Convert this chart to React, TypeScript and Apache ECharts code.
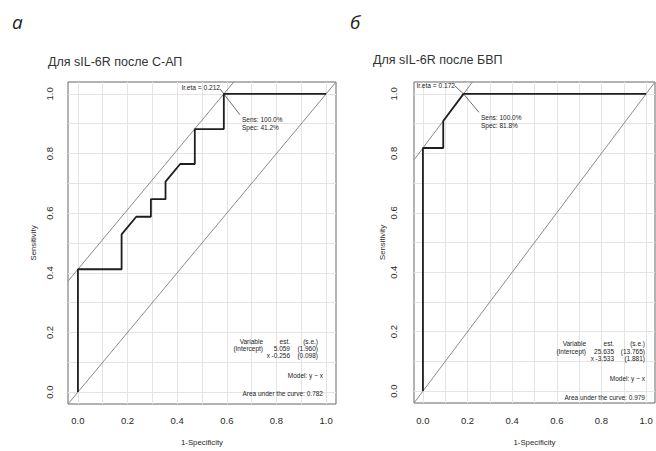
import React, { useEffect, useRef } from "react";
import * as echarts from "echarts";

// ---- data ----
const gridValues = [0, 0.1, 0.2, 0.3, 0.4, 0.5, 0.6, 0.7, 0.8, 0.9, 1.0];
const tickValues = [0, 0.2, 0.4, 0.6, 0.8, 1.0];

const rocAx = [0, 0, 0.176, 0.176, 0.235, 0.294, 0.294, 0.353, 0.353, 0.412, 0.471, 0.471, 0.588, 0.588, 1.0];
const rocAy = [0, 0.412, 0.412, 0.529, 0.588, 0.588, 0.647, 0.647, 0.706, 0.765, 0.765, 0.882, 0.882, 1.0, 1.0];
const rocBx = [0, 0, 0.091, 0.091, 0.182, 1.0];
const rocBy = [0, 0.818, 0.818, 0.909, 1.0, 1.0];

const optimumA = [0.588, 1.0];
const optimumB = [0.182, 1.0];
const connectorA = [[0.573, 1.017], [0.588, 1.0], [0.653, 0.93]];
const connectorB = [[0.143, 1.027], [0.182, 1.0], [0.251, 0.938]];

const titles = ["Для sIL-6R после С-АП", "Для sIL-6R после БВП"];
const panelLetters = ["а", "б"];
const lrEta = ["lr.eta = 0.212", "lr.eta = 0.172"];
const sensText = ["Sens: 100.0%", "Sens: 100.0%"];
const specText = ["Spec: 41.2%", "Spec: 81.8%"];
const tableHeader = ["Variable", "est.", "(s.e.)"];
const tableA = [["(Intercept)", "5.059", "(1.960)"], ["x", "-0.256", "(0.098)"]];
const tableB = [["(Intercept)", "25.635", "(13.765)"], ["x", "-3.533", "(1.881)"]];
const modelText = "Model: y ~ x";
const aucText = ["Area under the curve: 0.782", "Area under the curve: 0.979"];

const FONT = "Liberation Sans, Arial, sans-serif";
const LO = -0.04;
const HI = 1.04;

function zip(xs: number[], ys: number[]) {
  return xs.map((x, i) => [x, ys[i]]);
}

function xAxis(gridIndex: number, margin: number, nameGap: number) {
  return {
    type: "value",
    gridIndex,
    min: LO,
    max: HI,
    axisLine: { show: false },
    axisTick: { show: true, customValues: tickValues, length: 6, lineStyle: { color: "#555", width: 1 } },
    axisLabel: {
      customValues: tickValues,
      formatter: (v: number) => v.toFixed(1),
      fontSize: 9.5,
      color: "#2a2a2a",
      fontFamily: FONT,
      margin,
    },
    splitLine: { show: false },
    name: "1-Specificity",
    nameLocation: "middle",
    nameGap,
    nameTextStyle: { fontSize: 7.8, color: "#2a2a2a", fontFamily: FONT },
  };
}

function yAxis(gridIndex: number, margin: number, nameGap: number) {
  return {
    type: "value",
    gridIndex,
    min: LO,
    max: HI,
    axisLine: { show: false },
    axisTick: { show: true, customValues: tickValues, length: 6, lineStyle: { color: "#555", width: 1 } },
    axisLabel: {
      customValues: tickValues,
      formatter: (v: number) => v.toFixed(1),
      fontSize: 9.5,
      color: "#2a2a2a",
      fontFamily: FONT,
      rotate: 90,
      margin,
    },
    splitLine: { show: false },
    name: "Sensitivity",
    nameLocation: "middle",
    nameGap,
    nameTextStyle: { fontSize: 7.8, color: "#2a2a2a", fontFamily: FONT },
  };
}

function panelSeries(idx: number, roc: number[][], opt: number[], connector: number[][]) {
  const tangentOffset = opt[1] - opt[0];
  const common = { xAxisIndex: idx, yAxisIndex: idx, showSymbol: false, symbol: "none", silent: true, clip: true };
  return [
    {
      ...common,
      type: "line",
      data: [[LO, LO], [HI, HI]],
      lineStyle: { color: "#8a8a8a", width: 1 },
      z: 2,
      markLine: {
        silent: true,
        symbol: ["none", "none"],
        label: { show: false },
        lineStyle: { color: "#e4e4e4", width: 1, type: "solid" },
        data: [
          ...gridValues.map((v) => ({ xAxis: v })),
          ...gridValues.map((v) => ({ yAxis: v })),
        ],
        z: 1,
      },
    },
    {
      ...common,
      type: "line",
      data: [[LO, LO + tangentOffset], [HI - tangentOffset, HI]],
      lineStyle: { color: "#8a8a8a", width: 1 },
      z: 3,
    },
    {
      ...common,
      type: "line",
      data: roc,
      lineStyle: { color: "#1e1e1e", width: 1.8 },
      z: 5,
    },
    {
      ...common,
      type: "line",
      data: connector,
      lineStyle: { color: "#444", width: 0.8 },
      z: 4,
    },
  ];
}

function txt(text: string, x: number, y: number, size: number, align = "left", extra: any = {}) {
  return {
    type: "text",
    x,
    y,
    z: 100,
    silent: true,
    style: {
      text,
      fill: "#222",
      fontSize: size,
      fontFamily: FONT,
      align,
      verticalAlign: "middle",
      ...extra,
    },
  };
}

function tableGraphics(rows: string[][], cols: number[], ys: number[], xRowX: number) {
  const out: any[] = [];
  tableHeader.forEach((h, c) => out.push(txt(h, cols[c], ys[0], 6.5, "right")));
  rows.forEach((r, ri) => {
    r.forEach((cell, c) => {
      const cx = ri === 1 && c === 0 ? xRowX : cols[c];
      out.push(txt(cell, cx, ys[ri + 1], 6.5, "right"));
    });
  });
  return out;
}

export default function App() {
  const ref = useRef<HTMLDivElement>(null);
  useEffect(() => {
    if (!ref.current) return;
    const chart = echarts.init(ref.current, null, { renderer: "svg" });
    const option: any = {
      animation: false,
      backgroundColor: "#ffffff",
      grid: [
        { left: 68, top: 82, width: 268, height: 325, show: true, borderColor: "#666", borderWidth: 1, backgroundColor: "transparent" },
        { left: 414, top: 82, width: 241, height: 328, show: true, borderColor: "#666", borderWidth: 1, backgroundColor: "transparent" },
      ],
      xAxis: [xAxis(0, 11, 34), xAxis(1, 12, 35)],
      yAxis: [yAxis(0, 14, 31), yAxis(1, 16, 28)],
      series: [
        ...panelSeries(0, zip(rocAx, rocAy), optimumA, connectorA),
        ...panelSeries(1, zip(rocBx, rocBy), optimumB, connectorB),
      ],
      graphic: [
        txt(panelLetters[0], 12, 22, 19, "left", { fontFamily: "Open Sans, sans-serif", fontStyle: "italic", fill: "#222" }),
        txt(panelLetters[1], 350, 22, 19, "left", { fontFamily: "Open Sans, sans-serif", fontStyle: "italic", fill: "#222" }),
        txt(titles[0], 48, 62, 12.5, "left", { fill: "#333" }),
        txt(titles[1], 373, 60, 12.5, "left", { fill: "#333" }),
        txt(lrEta[0], 220, 87, 6.6, "right"),
        txt(lrEta[1], 455, 85, 6.6, "right"),
        txt(sensText[0], 242, 119, 6.5),
        txt(specText[0], 242, 127.5, 6.5),
        txt(sensText[1], 481, 117, 6.5),
        txt(specText[1], 481, 125, 6.5),
        ...tableGraphics(tableA, [263, 290, 318], [341, 348, 355], 270),
        ...tableGraphics(tableB, [586, 614, 645], [343, 351, 358], 594),
        txt(modelText, 323, 375, 6.5, "right"),
        txt(modelText, 645, 378, 6.5, "right"),
        txt(aucText[0], 323, 393, 6.5, "right"),
        txt(aucText[1], 645, 397, 6.5, "right"),
      ],
    };
    chart.setOption(option);
    return () => chart.dispose();
  }, []);
  return <div ref={ref} style={{ position: "absolute", left: 0, top: 0, width: 656, height: 451 }} />;
}
